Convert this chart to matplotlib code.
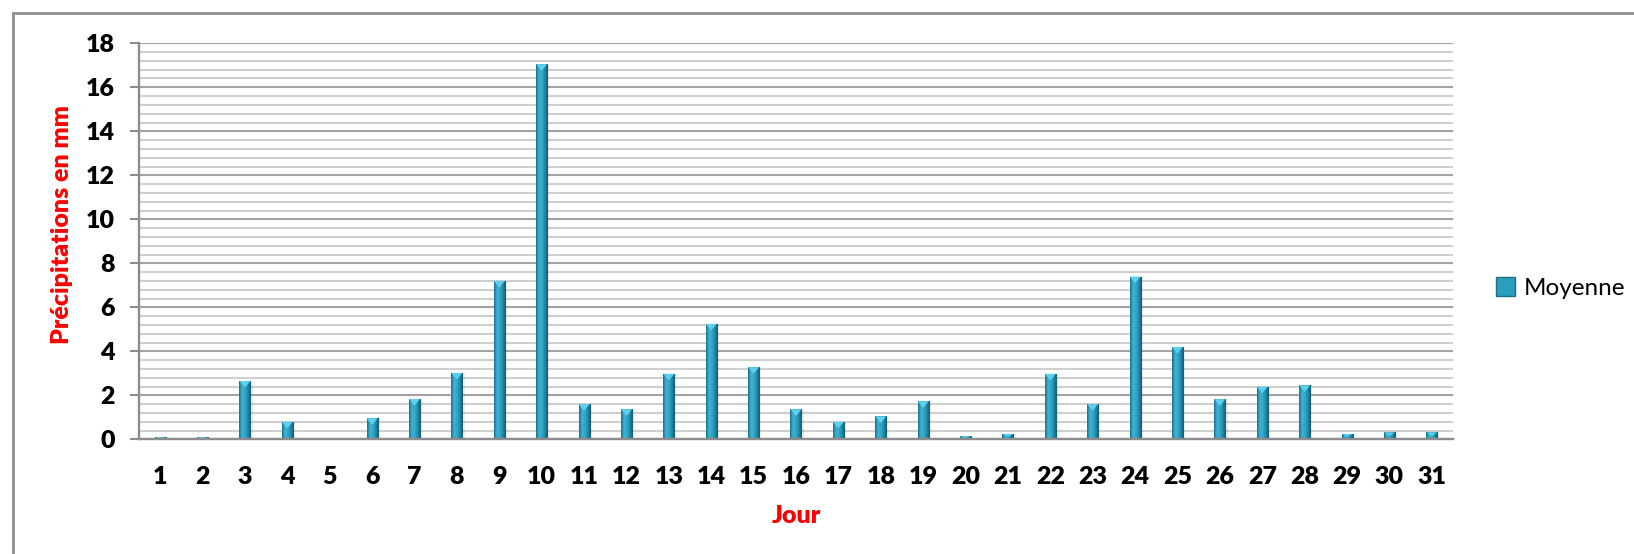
import numpy as np
import matplotlib
matplotlib.use("Agg")
import matplotlib.pyplot as plt
from matplotlib.colors import LinearSegmentedColormap
from matplotlib.patches import Polygon, Rectangle
from matplotlib.lines import Line2D

# Daily mean precipitation (mm)
days = list(range(1, 32))
moyenne = [0.1, 0.1, 2.65, 0.8, 0.0, 0.95, 1.83, 3.02, 7.2, 17.05,
           1.6, 1.36, 2.98, 5.25, 3.28, 1.36, 0.8, 1.04, 1.73, 0.15,
           0.25, 2.98, 1.6, 7.4, 4.2, 1.82, 2.4, 2.45, 0.25, 0.31, 0.31]
series_name = "Moyenne"
y_ticks = list(range(0, 19, 2))

plt.rcParams["font.family"] = ["Lato", "DejaVu Sans"]

fig = plt.figure(figsize=(16.34, 5.54), dpi=100)
ax = fig.add_axes([139 / 1634, 1 - 439.3 / 554, (1453 - 139) / 1634, (439.3 - 43.3) / 554])

ax.set_xlim(0.5, 31.5)
ax.set_ylim(0, 18)

# horizontal grid: light minor lines every 0.4 mm, darker lines every 2 mm
ax.set_yticks(y_ticks)
ax.set_yticks(np.arange(0, 18.01, 0.4), minor=True)
ax.grid(axis="y", which="minor", color="#cfcfcf", lw=1.5, zorder=0)
ax.grid(axis="y", which="major", color="#a3a3a3", lw=1.5, zorder=0)
ax.set_axisbelow(True)

ax.set_xticks(days)
ax.set_xticklabels([str(d) for d in days])
ax.tick_params(axis="x", length=0, pad=19.5, labelsize=18)
ax.tick_params(axis="y", which="major", length=6.5, width=1.5, color="#8c8c8c",
               pad=11, labelsize=18)
ax.tick_params(axis="y", which="minor", length=0)
for lab in ax.get_xticklabels() + ax.get_yticklabels():
    lab.set_fontweight("heavy")

for side in ("top", "right"):
    ax.spines[side].set_visible(False)
for side in ("left", "bottom"):
    ax.spines[side].set_color("#8c8c8c")
    ax.spines[side].set_linewidth(1.7)
ax.spines["bottom"].set_zorder(6)

# cylinder-like shading for each bar
shade = LinearSegmentedColormap.from_list(
    "bar", ["#1d6f88", "#3cb3d3", "#35a7c7", "#2088a6", "#135a6e"])
grad = np.linspace(0, 1, 64).reshape(1, -1)
width = 0.26
for d, v in zip(days, moyenne):
    if v <= 0:
        continue
    # soft shadow to the right
    ax.add_patch(Rectangle((d - width / 2 + 0.05, 0), width, v, color="#000000",
                           alpha=0.08, lw=0, zorder=2))
    im = ax.imshow(grad, cmap=shade, aspect="auto", zorder=3,
                   extent=(d - width / 2, d + width / 2, 0, v))
    clip = Rectangle((d - width / 2, 0), width, v, transform=ax.transData)
    im.set_clip_path(clip)
    cap = min(0.3, v * 0.5)
    ax.add_patch(Polygon([(d - width / 2, v), (d + width / 2, v), (d, v - cap)],
                         closed=True, color="#5fd0ec", lw=0, zorder=4))

# axis titles
fig.text(796 / 1634, 1 - 516 / 554, "Jour", color="#ff0000", fontsize=18,
         fontweight="heavy", ha="center", va="center")
fig.text(62 / 1634, 1 - 224 / 554, "Précipitations en mm", color="#ff0000",
         fontsize=18, fontweight="heavy", rotation=90, ha="center", va="center")

# legend
handle = Rectangle((0, 0), 1, 1, facecolor="#2b9dbd", edgecolor="#1b6f86", lw=1)
fig.legend([handle], [series_name], loc="center left",
           bbox_to_anchor=(1474 / 1634, 1 - 288 / 554), frameon=False,
           fontsize=17.5, handlelength=0.8, handleheight=0.8, handletextpad=0.35)

# chart frame (top and left edges)
fig.add_artist(Line2D([13 / 1634, 1], [1 - 13 / 554] * 2, color="#8f8f8f", lw=2,
                      transform=fig.transFigure))
fig.add_artist(Line2D([13 / 1634] * 2, [0, 1 - 13 / 554], color="#8f8f8f", lw=2,
                      transform=fig.transFigure))

fig.savefig("out.png", dpi=100)
